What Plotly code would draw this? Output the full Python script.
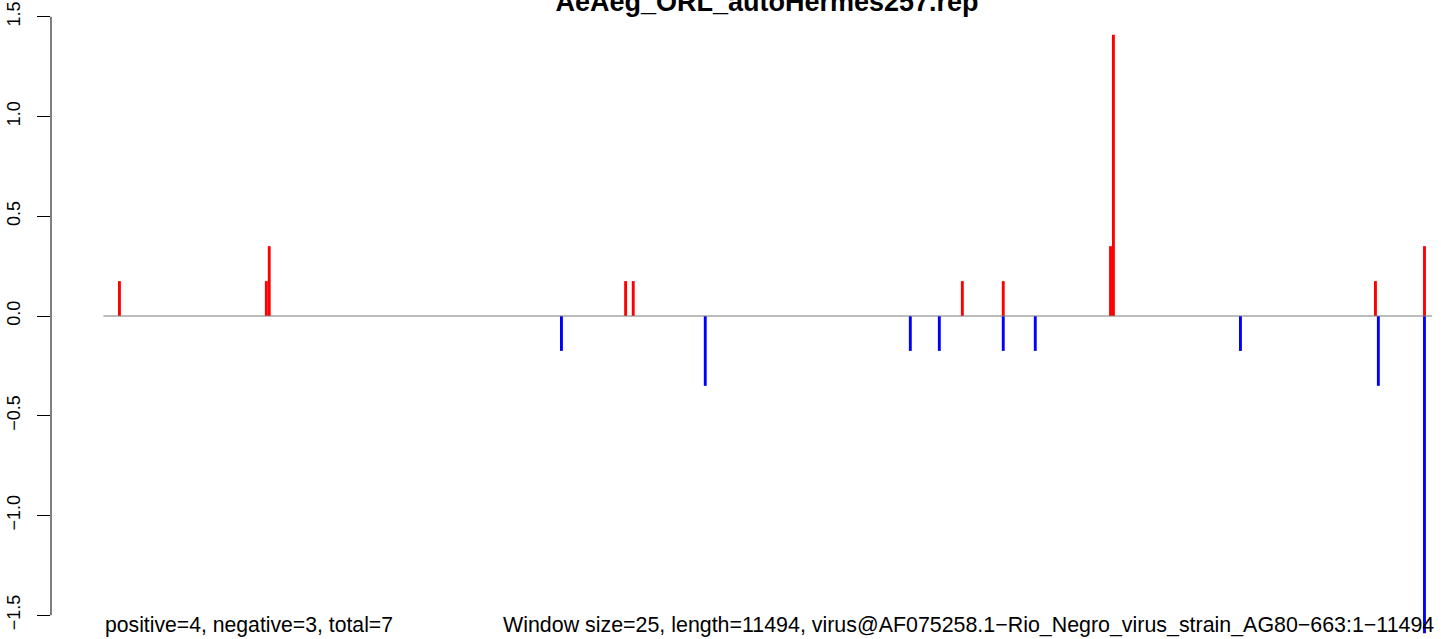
import plotly.graph_objects as go

# ---- data ----
title_text = "AeAeg_ORL_autoHermes257.rep"
seq_length = 11494
window_size = 25

pos_x = [139, 1410, 1435, 4518, 4584, 7431, 7785, 8713, 8738, 11005, 11429]
pos_y = [0.175, 0.175, 0.35, 0.175, 0.175, 0.175, 0.175, 0.35, 1.41, 0.175, 0.35]

neg_x = [3963, 5207, 6981, 7232, 7785, 8062, 9837, 11030, 11429]
neg_y = [-0.175, -0.35, -0.175, -0.175, -0.175, -0.175, -0.175, -0.35, -1.59]

y_ticks = [-1.5, -1.0, -0.5, 0.0, 0.5, 1.0, 1.5]
y_tick_labels = ["\u22121.5", "\u22121.0", "\u22120.5", "0.0", "0.5", "1.0", "1.5"]

left_note = "positive=4, negative=3, total=7"
right_note = ("Window size=25, length=11494, "
              "virus@AF075258.1\u2212Rio_Negro_virus_strain_AG80\u2212663:1\u221211494")

FONT = "Liberation Sans, Arial, sans-serif"

fig = go.Figure()

fig.add_trace(go.Scatter(
    x=[0, seq_length], y=[0, 0], mode="lines",
    line=dict(color="#7a7a7a", width=1.2), hoverinfo="skip", showlegend=False))

fig.add_trace(go.Bar(
    x=pos_x, y=pos_y, width=window_size,
    marker=dict(color="#FF0000", line=dict(width=0)), showlegend=False))
fig.add_trace(go.Bar(
    x=neg_x, y=neg_y, width=window_size,
    marker=dict(color="#0000FF", line=dict(width=0)), showlegend=False))

fig.update_layout(
    width=1441, height=639,
    margin=dict(l=51, r=0, t=0, b=0),
    paper_bgcolor="white", plot_bgcolor="white",
    barmode="overlay",
    showlegend=False,
    font=dict(family=FONT, color="black"),
    title=dict(text="<b>" + title_text + "</b>",
               font=dict(family=FONT, size=27, color="black"),
               x=767 / 1441, xanchor="center", xref="container",
               y=1 - 11 / 639, yanchor="bottom", yref="container"),
    xaxis=dict(range=[-453, 11572], visible=False, showgrid=False, zeroline=False),
    yaxis=dict(range=[-1.619, 1.584], tickvals=y_ticks, ticktext=y_tick_labels,
               tickangle=-90, ticks="outside", ticklen=13, tickwidth=1,
               tickcolor="black", showgrid=False, zeroline=False, showline=False,
               ticklabelstandoff=10,
               tickfont=dict(family=FONT, size=18, color="black")),
    shapes=[dict(type="line", xref="paper", yref="y", x0=0, x1=0,
                 y0=y_ticks[0], y1=y_ticks[-1],
                 line=dict(color="black", width=1))],
    annotations=[
        dict(text=left_note, x=0, xref="x", xanchor="left",
             y=0, yref="paper", yanchor="bottom", yshift=0, showarrow=False,
             font=dict(family=FONT, size=21.2, color="black")),
        dict(text=right_note, x=seq_length, xref="x", xanchor="right",
             y=0, yref="paper", yanchor="bottom", yshift=0, xshift=4,
             showarrow=False,
             font=dict(family=FONT, size=21.4, color="black")),
    ],
)

fig.write_html("out.html",
               config={"displayModeBar": False},
               post_script="document.body.style.margin='0';"
                           "document.body.style.overflow='hidden';")
